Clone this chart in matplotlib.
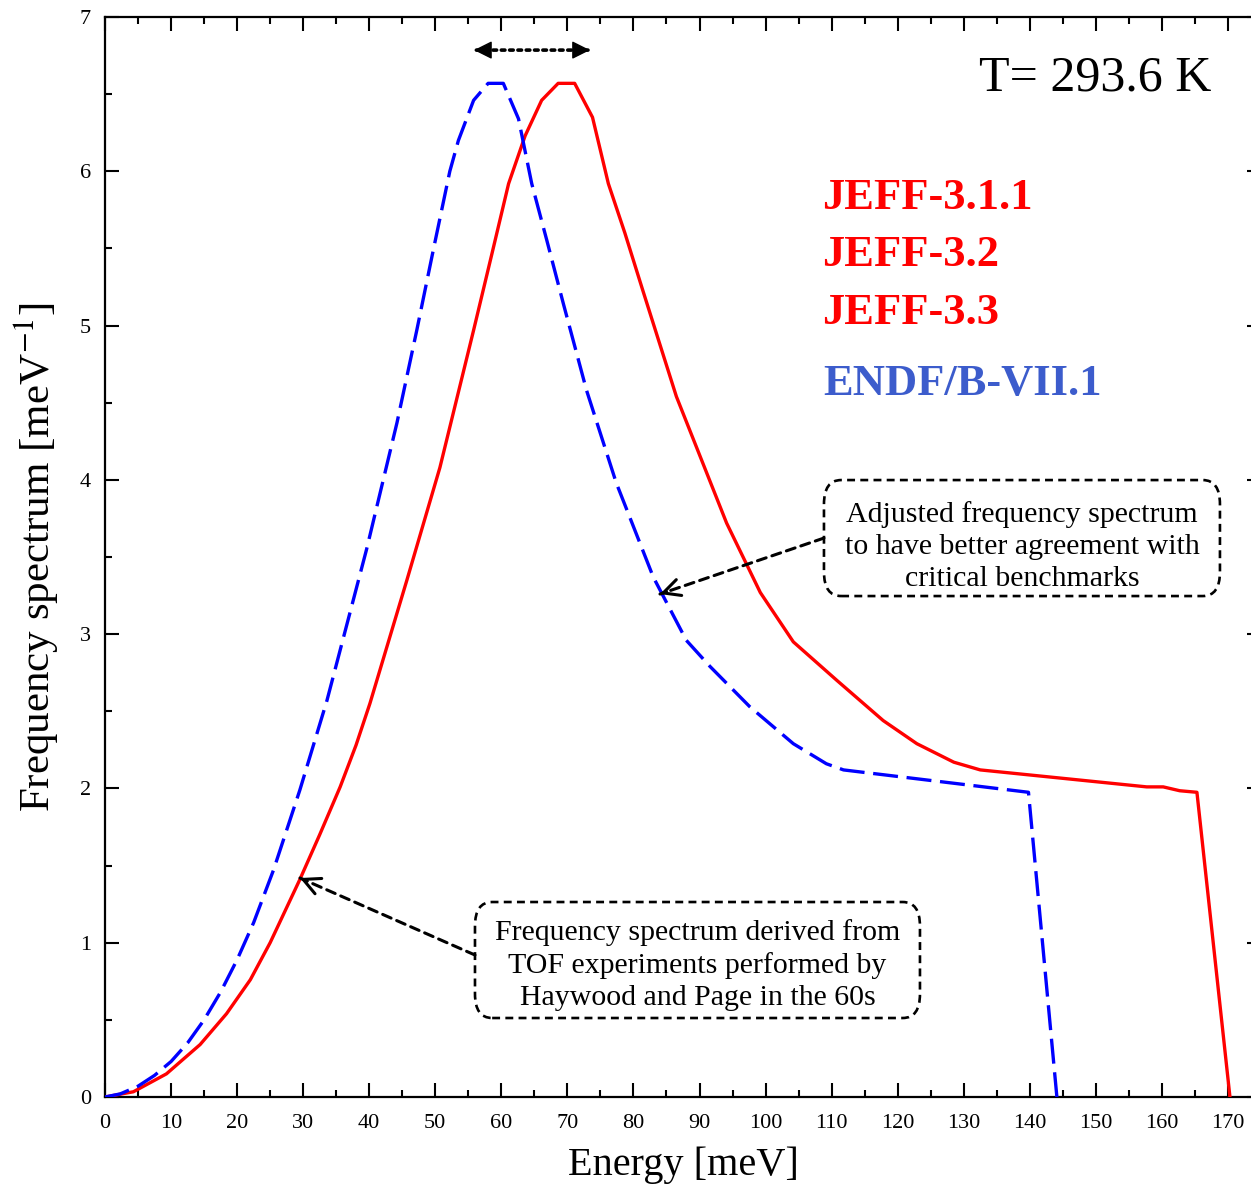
import matplotlib
matplotlib.use("Agg")
import matplotlib.pyplot as plt
from matplotlib.patches import FancyBboxPatch
from matplotlib.ticker import MultipleLocator

# ---- data ----
jeff_E = [0, 4.3, 9.3, 14.4, 18.4, 22.0, 25, 29.5, 32.5, 35.6, 38.0, 40.1, 45.7, 50.7,
          55.8, 58.6, 61.1, 63.6, 66.1, 68.6, 71.1, 73.8, 76.2, 78.7, 81.4, 86.5,
          94.1, 99.2, 104.2, 110.8, 117.8, 122.9, 128.5, 132.5, 157.7, 160.2, 162.7,
          165.3, 170.3]
jeff_S = [0, 0.034, 0.15, 0.34, 0.54, 0.76, 1.0, 1.41, 1.70, 2.01, 2.28, 2.55, 3.35,
          4.08, 4.97, 5.47, 5.92, 6.23, 6.46, 6.57, 6.57, 6.35, 5.92, 5.60, 5.23,
          4.54, 3.72, 3.27, 2.95, 2.70, 2.44, 2.29, 2.17, 2.12, 2.01, 2.01, 1.985,
          1.975, 0]

endf_E = [0, 2.3, 5.0, 7.5, 10.0, 12.5, 15.0, 17.5, 20.0, 22.5, 25.5, 29.5, 33.6,
          39.6, 44.2, 47.2, 49.7, 52.2, 53.5, 55.8, 58, 60.3, 62.6, 64.6, 66.9, 69.4,
          72.9, 77.4, 83, 88, 91.6, 97.6, 104.2, 109.2, 111.8, 139.8, 144.1]
endf_S = [0, 0.02, 0.07, 0.14, 0.23, 0.35, 0.50, 0.68, 0.89, 1.13, 1.47, 1.99, 2.57,
          3.55, 4.37, 4.97, 5.49, 6.0, 6.2, 6.46, 6.57, 6.57, 6.34, 5.92, 5.55, 5.14,
          4.58, 3.98, 3.37, 2.96, 2.79, 2.53, 2.29, 2.16, 2.12, 1.975, 0]

x_ticks = list(range(0, 171, 10))
y_ticks = list(range(0, 8))

jeff_labels = ["JEFF-3.1.1", "JEFF-3.2", "JEFF-3.3"]
endf_label = "ENDF/B-VII.1"
temp_label = "T= 293.6 K"
note_adjusted = "Adjusted frequency spectrum\nto have better agreement with\ncritical benchmarks"
note_tof = "Frequency spectrum derived from\nTOF experiments performed by\nHaywood and Page in the 60s"

SERIF = ["Liberation Serif", "DejaVu Serif"]
plt.rcParams["font.family"] = SERIF
plt.rcParams["mathtext.fontset"] = "stix"

W, H = 1251, 1189
fig = plt.figure(figsize=(W / 100, H / 100), dpi=100)
ax = fig.add_axes([105 / W, 92 / H, 1156 / W, 1080 / H])

ax.plot(jeff_E, jeff_S, color="#ff0000", lw=2.4, zorder=3)
ax.plot(endf_E, endf_S, color="#0000ff", lw=2.4, dashes=(7.5, 2.6), zorder=3)

ax.set_xlim(0, 175)
ax.set_ylim(0, 7)
ax.set_xticks(x_ticks)
ax.set_yticks(y_ticks)
ax.xaxis.set_minor_locator(MultipleLocator(5))
ax.yaxis.set_minor_locator(MultipleLocator(0.5))
ax.tick_params(which="both", direction="in", top=True, right=True, width=1.5,
               labelsize=16, colors="black")
ax.tick_params(which="major", length=10)
ax.tick_params(which="minor", length=5)
ax.tick_params(axis="x", pad=12)
ax.tick_params(axis="y", pad=10)
for sp in ax.spines.values():
    sp.set_linewidth(1.6)

ax.set_xlabel("Energy [meV]", fontsize=29, labelpad=10)
ax.set_ylabel("Frequency spectrum [meV$^{-1}$]", fontsize=31, labelpad=14)

ax.text(167.5, 6.6, temp_label, fontsize=36, ha="right", va="center")
ys = [5.83, 5.46, 5.08]
for lab, yv in zip(jeff_labels, ys):
    ax.text(108.6, yv, lab, fontsize=32, fontweight="bold", color="#ff0000",
            ha="left", va="center")
ax.text(108.8, 4.62, endf_label, fontsize=32, fontweight="bold", color="#3c5ccc",
        ha="left", va="center")


def px2E(px):
    return (px - 105) / 6.606


def py2S(py):
    return (1097 - py) / 154.3


# double arrow (dotted line, filled heads)
ya = py2S(50)
ax.annotate("", xy=(px2E(474), ya), xytext=(px2E(588), ya),
            arrowprops=dict(arrowstyle="-", linestyle=(0, (1, 1.3)), lw=2.6,
                            color="black", shrinkA=0, shrinkB=0))
for xa, xb in ((px2E(474), px2E(490)), (px2E(590), px2E(574))):
    ax.annotate("", xy=(xa, ya), xytext=(xb, ya),
                arrowprops=dict(arrowstyle="-|>", lw=1, color="black",
                                mutation_scale=28, shrinkA=0, shrinkB=0))


def note(x0p, y0p, x1p, y1p, txt, text_cy):
    x0, y0, x1, y1 = px2E(x0p), py2S(y1p), px2E(x1p), py2S(y0p)
    box = FancyBboxPatch((x0, y0), x1 - x0, y1 - y0,
                         boxstyle="round,pad=0,rounding_size=2.6",
                         mutation_aspect=0.06, fc="white", ec="black", lw=1.9,
                         ls=(0, (3, 2)), zorder=4)
    ax.add_patch(box)
    ax.text((x0 + x1) / 2, py2S(text_cy), txt, fontsize=21.5, ha="center",
            va="center", linespacing=1.3, zorder=5)


def pointer(tip, tail):
    tE, tS = px2E(tip[0]), py2S(tip[1])
    sE, sS = px2E(tail[0]), py2S(tail[1])
    ax.annotate("", xy=(tE, tS), xytext=(sE, sS),
                arrowprops=dict(arrowstyle="-", linestyle=(0, (3, 2)), lw=2.2,
                                color="black", shrinkA=0, shrinkB=0), zorder=5)
    f = 0.04
    ax.annotate("", xy=(tE, tS), xytext=(tE + f * (sE - tE), tS + f * (sS - tS)),
                arrowprops=dict(arrowstyle="->", lw=2.2, color="black",
                                mutation_scale=30, shrinkA=0, shrinkB=0), zorder=5)


note(824, 480, 1220, 596, note_adjusted, 546)
note(475, 902, 920, 1018, note_tof, 965)
pointer((660, 594), (824, 538))
pointer((300, 878), (475, 955))

fig.savefig("out.png", dpi=100)
